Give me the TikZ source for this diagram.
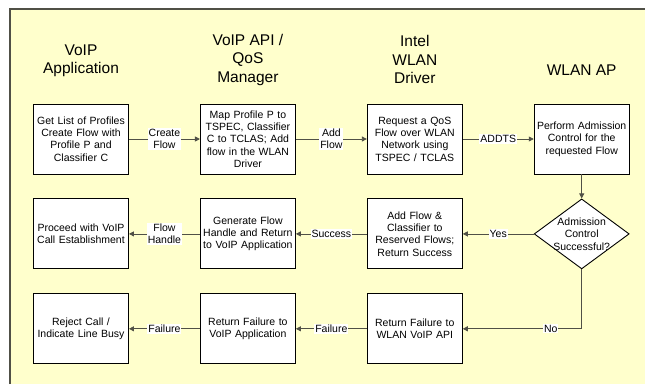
\documentclass[tikz,border=0pt]{standalone}
\usepackage{fontspec}
\setmainfont{Liberation Sans}
\usepackage{tikz}
\usetikzlibrary{arrows.meta, positioning, shapes.geometric}
\definecolor{fondjaune}{RGB}{255,255,204}
\definecolor{trait}{RGB}{80,80,70}
\tikzset{
	box/.style={
		draw,
		fill=white,
		line width=0.9pt,
		minimum width=95pt,
		minimum height=70pt,
		text width=92pt,
		inner sep=0pt,
		align=center,
		font=\fontsize{10.5}{12.3}\selectfont
	},
	arrow/.style={
		-{Triangle[length=5pt,width=5pt]},
		draw=trait,
		line width=0.8pt
	}
}

\begin{document}
\begin{tikzpicture}[node distance=24pt and 71pt]
		% Style des titres, étiquettes et losange
		\tikzstyle{head}=[align=center, font=\fontsize{15.5}{18.5}\selectfont]
		\tikzstyle{lbl}=[fill=white, inner sep=1pt, align=center, font=\fontsize{10.5}{12.3}\selectfont]
		\tikzstyle{decision}=[diamond, draw, fill=white, line width=0.9pt, minimum width=95pt, minimum height=70pt, inner sep=0pt]
		
		%--- Fond ---
		\useasboundingbox (0,0) rectangle (645pt,-384pt);
		\fill[fondjaune] (10pt,-9pt) rectangle (645pt,-384pt);
		\draw[trait, line width=1.4pt] (10pt,-384pt) -- (10pt,-9pt) -- (645pt,-9pt);
		
		%--- Ligne 1 ---
		\node[box] (getP) at (81pt,-139pt) {Get List of Profiles\\Create Flow with\\Profile P and\\Classifier C};
		\node[box, right=of getP] (mapP) {Map Profile P to\\TSPEC, Classifier\\C to TCLAS; Add\\flow in the WLAN\\Driver};
		\node[box, right=of mapP] (reqQ) {Request a QoS\\Flow over WLAN\\Network using\\TSPEC / TCLAS};
		\node[box, right=of reqQ] (admC) {Perform Admission\\Control for the\\requested Flow};
		
		%--- Ligne 2 ---
		\node[box, below=of getP] (proc) {Proceed with VoIP\\Call Establishment};
		\node[box, below=of mapP] (genH) {Generate Flow\\Handle and Return\\to VoIP Application};
		\node[box, below=of reqQ] (addF) {Add Flow \&\\Classifier to\\Reserved Flows;\\Return Success};
		\node[decision, below=of admC] (dec) {};
		\node[align=center, font=\fontsize{10.5}{12.6}\selectfont] (decT) at (dec) {Admission\\Control\\Successful?};
		
		%--- Ligne 3 ---
		\node[box, below=of proc] (rejC) {Reject Call /\\Indicate Line Busy};
		\node[box, below=of genH] (failV) {Return Failure to\\VoIP Application};
		\node[box, below=of addF] (failW) {Return Failure to\\WLAN VoIP API};
		
		%--- Titres des colonnes ---
		\node[head, yshift=43pt] (hApp) at (getP.north) {VoIP\\Application};
		\node[head, yshift=44pt] (hApi) at (mapP.north) {VoIP API /\\QoS\\Manager};
		\node[head, yshift=44pt] (hDrv) at (reqQ.north) {Intel\\WLAN\\Driver};
		\node[head, yshift=33pt] (hAP) at (admC.north) {WLAN AP};
		
		%--- Flèches ---
		\draw[arrow] (getP) -- node[lbl]{Create\\Flow} (mapP);
		\draw[arrow] (mapP) -- node[lbl]{Add\\Flow} (reqQ);
		\draw[arrow] (reqQ) -- node[lbl]{ADDTS} (admC);
		\draw[arrow] (admC) -- (dec);
		\draw[arrow] (dec.west) -- node[lbl]{Yes} (addF.east);
		\draw[arrow] (addF) -- node[lbl]{Success} (genH);
		\draw[arrow] (genH) -- node[lbl]{Flow\\Handle} (proc);
		\draw[arrow] (dec.south) |- node[lbl, pos=0.63]{No} (failW.east);
		\draw[arrow] (failW) -- node[lbl]{Failure} (failV);
		\draw[arrow] (failV) -- node[lbl]{Failure} (rejC);
	\end{tikzpicture}
\end{document}
